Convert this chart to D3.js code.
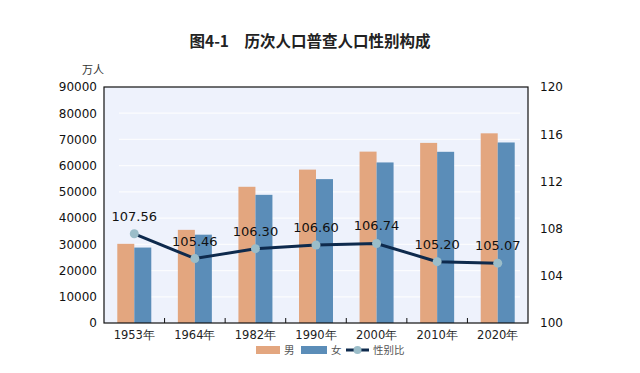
<!DOCTYPE html>
<html><head><meta charset="utf-8">
<script src="https://cdn.jsdelivr.net/npm/d3@7"></script>
<style>body{margin:0;background:#fff;}svg{display:block;}</style>
</head><body>
<svg id="c" width="640" height="373"></svg>
<script>
const categories = ["1953年","1964年","1982年","1990年","2000年","2010年","2020年"];
const male = [30190, 35520, 51944, 58495, 65355, 68685, 72334];
const female = [28770, 33680, 48874, 54873, 61228, 65287, 68844];
const ratio = [107.56, 105.46, 106.30, 106.60, 106.74, 105.20, 105.07];
const leftTicks = [0,10000,20000,30000,40000,50000,60000,70000,80000,90000];
const rightTicks = [100,104,108,112,116,120];
const seriesNames = ["男","女","性别比"];
const title = "图4-1\u3000历次人口普查人口性别构成";
const unit = "万人";

const svg = d3.select("#c");
const L=104, R=528, T=87, B=323;
const font = "'DejaVu Sans', sans-serif";
const cjk = "'Noto Sans CJK SC', sans-serif";

const x = d3.scaleBand().domain(categories).range([L,R]).paddingInner(0).paddingOuter(0);
const y = d3.scaleLinear().domain([0,90000]).range([B,T]);
const y2 = d3.scaleLinear().domain([100,120]).range([B,T]);
const bw = 17;

svg.append("rect").attr("x",L).attr("y",T).attr("width",R-L).attr("height",B-T).attr("fill","#eef2fc");
svg.append("g").selectAll("line").data(leftTicks.slice(1,-1)).join("line")
  .attr("x1",L+15).attr("x2",R-8).attr("y1",d=>y(d)).attr("y2",d=>y(d))
  .attr("stroke","#ffffff").attr("stroke-width",1.2).attr("opacity",0.8);

const g = svg.append("g");
g.selectAll(".m").data(categories).join("rect")
  .attr("x",(d)=>x(d)+x.bandwidth()/2-bw).attr("width",bw)
  .attr("y",(d,i)=>y(male[i])).attr("height",(d,i)=>B-y(male[i])).attr("fill","#e3a67f");
g.selectAll(".f").data(categories).join("rect")
  .attr("x",(d)=>x(d)+x.bandwidth()/2).attr("width",bw)
  .attr("y",(d,i)=>y(female[i])).attr("height",(d,i)=>B-y(female[i])).attr("fill","#5b8db8");

const line = d3.line().x((d,i)=>x(categories[i])+x.bandwidth()/2).y(d=>y2(d));
svg.append("path").datum(ratio).attr("d",line).attr("fill","none").attr("stroke","#0e2a4d").attr("stroke-width",3);
svg.append("g").selectAll("circle").data(ratio).join("circle")
  .attr("cx",(d,i)=>x(categories[i])+x.bandwidth()/2).attr("cy",d=>y2(d)).attr("r",4.5)
  .attr("fill","#9bbdc9");
svg.append("g").selectAll("text").data(ratio).join("text")
  .attr("x",(d,i)=>x(categories[i])+x.bandwidth()/2).attr("y",d=>y2(d)-13)
  .attr("text-anchor","middle").attr("font-family",font).attr("font-size",13).attr("fill","#111")
  .text(d=>d.toFixed(2));

svg.append("rect").attr("x",L).attr("y",T).attr("width",R-L).attr("height",B-T).attr("fill","none").attr("stroke","#111").attr("stroke-width",1.2);

const ax = d3.axisLeft(y).tickValues(leftTicks).tickFormat(d3.format("d")).tickSize(0).tickPadding(7);
svg.append("g").attr("transform",`translate(${L},0)`).call(ax)
  .call(s=>s.select(".domain").remove())
  .selectAll("text").attr("font-family",font).attr("font-size",12).attr("fill","#111");
const ax2 = d3.axisRight(y2).tickValues(rightTicks).tickSize(0).tickPadding(12);
svg.append("g").attr("transform",`translate(${R},0)`).call(ax2)
  .call(s=>s.select(".domain").remove())
  .selectAll("text").attr("font-family",font).attr("font-size",12).attr("fill","#111");

const axb = d3.axisBottom(x).tickSize(0).tickPadding(8);
const gb = svg.append("g").attr("transform",`translate(0,${B})`).call(axb);
gb.select(".domain").remove();
gb.selectAll("text").attr("font-family",font).attr("font-size",11.5).attr("fill","#222");
svg.append("g").selectAll("line").data(categories.slice(1)).join("line")
  .attr("x1",d=>x(d)).attr("x2",d=>x(d)).attr("y1",B).attr("y2",B-5)
  .attr("stroke","#111").attr("stroke-width",1);

svg.append("text").attr("x",310).attr("y",47).attr("text-anchor","middle")
  .attr("font-family",cjk).attr("font-weight","bold").attr("font-size",15.5).attr("fill","#222").text(title);
svg.append("text").attr("x",93).attr("y",74).attr("text-anchor","middle")
  .attr("font-family",cjk).attr("font-size",11).attr("fill","#333").text(unit);

const lg = svg.append("g").attr("transform","translate(0,350)");
lg.append("rect").attr("x",256).attr("y",-4).attr("width",24).attr("height",8).attr("fill","#e3a67f");
lg.append("text").attr("x",284).attr("y",4).attr("font-family",cjk).attr("font-size",10.5).attr("fill","#555").text(seriesNames[0]);
lg.append("rect").attr("x",301).attr("y",-4).attr("width",26).attr("height",8).attr("fill","#5b8db8");
lg.append("text").attr("x",331).attr("y",4).attr("font-family",cjk).attr("font-size",10.5).attr("fill","#555").text(seriesNames[1]);
lg.append("line").attr("x1",346).attr("x2",369).attr("y1",0).attr("y2",0).attr("stroke","#0e2a4d").attr("stroke-width",3);
lg.append("circle").attr("cx",357.5).attr("cy",0).attr("r",4).attr("fill","#9bbdc9");
lg.append("text").attr("x",373).attr("y",4).attr("font-family",cjk).attr("font-size",10.5).attr("fill","#555").text(seriesNames[2]);
</script>
</body></html>
